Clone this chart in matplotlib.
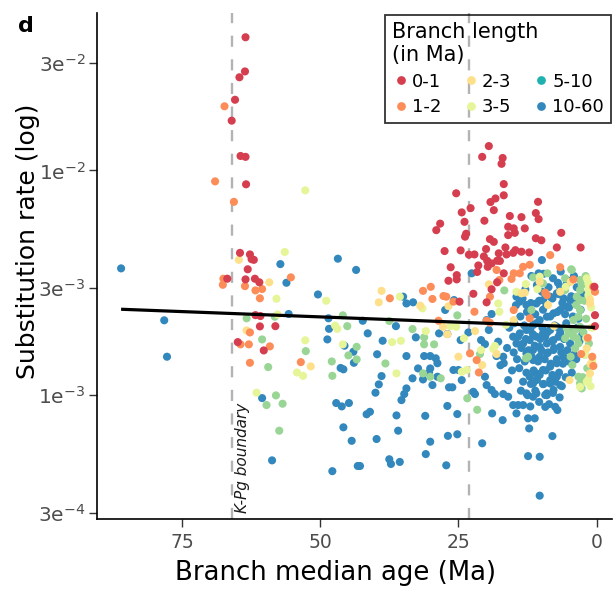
import numpy as np
import matplotlib
matplotlib.use("Agg")
import matplotlib.pyplot as plt
from matplotlib.lines import Line2D
from matplotlib.ticker import NullLocator

plt.rcParams['font.family'] = ['DejaVu Sans']
plt.rcParams['lines.scale_dashes'] = False

# ---------------- data (branch median age in Ma, log10 substitution rate) ----------------
red_age = [63.5, 63.6, 64.6, 65.4, 66.0, 64.4, 63.5, 63.4, 64.5, 62.7, 62.4, 62.0, 63.1, 66.8, 63.5,
           61.8, 61.0, 61.7, 60.8, 60.9, 58.1, 64.9, 60.2, 19.5, 20.7, 17.0, 17.2, 16.8, 25.4, 16.8,
           18.3, 19.2, 10.6, 22.8, 24.4, 18.6, 11.0, 15.7, 13.6, 10.5, 20.3, 23.9, 28.3, 16.0, 15.0,
           13.0, 29.0, 14.8, 23.6, 16.0, 6.4, 23.8, 11.0, 10.0, 19.3, 18.6, 27.5, 24.6, 20.0, 16.5,
           14.7, 7.2, 2.9, 12.2, 23.1, 22.1, 20.4, 17.7, 16.3, 19.8, 18.0, 21.4, 26.4, 25.3, 25.3,
           26.8, 21.6, 19.7, 19.0, 17.5, 16.8, 18.0, 22.3, 19.0, 19.9, 24.8, 0.4, 0.3, 0.3, 15.1, 13.6]
red_lr = [-1.408, -1.560, -1.586, -1.686, -1.779, -1.936, -1.940, -2.062, -2.367, -2.374, -2.395, -2.398,
          -2.440, -2.482, -2.485, -2.482, -2.498, -2.644, -2.648, -2.694, -2.693, -2.764, -2.801, -1.892,
          -1.940, -1.945, -1.971, -2.061, -2.102, -2.111, -2.125, -2.141, -2.140, -2.168, -2.187, -2.177,
          -2.190, -2.203, -2.208, -2.217, -2.224, -2.229, -2.237, -2.251, -2.258, -2.258, -2.266, -2.278,
          -2.282, -2.288, -2.278, -2.295, -2.302, -2.311, -2.306, -2.318, -2.359, -2.356, -2.350, -2.343,
          -2.355, -2.343, -2.343, -2.365, -2.375, -2.374, -2.383, -2.369, -2.374, -2.402, -2.402, -2.423,
          -2.431, -2.466, -2.485, -2.491, -2.452, -2.429, -2.414, -2.403, -2.458, -2.498, -2.549, -2.529,
          -2.587, -2.584, -2.518, -2.644, -2.693, -2.367, -2.362]

orange_age = [67.3, 69.0, 65.6, 67.5, 67.6, 55.3, 63.6, 61.7, 60.5, 60.9, 62.7, 64.4, 62.9, 59.1, 62.7,
              53.5, 8.4, 13.3, 12.1, 6.6, 18.1, 15.0, 13.9, 15.4, 17.6, 31.4, 30.0, 29.7, 27.7, 27.2,
              37.4, 25.9, 19.3, 22.1, 19.9, 19.3, 28.6, 15.0, 12.1, 9.0, 9.3, 4.2, 0.6, 0.3, 1.6,
              2.8, 0.8, 0.6, 22.9, 21.3, 21.7]
orange_lr = [-1.715, -2.049, -2.140, -2.482, -2.509, -2.476, -2.515, -2.534, -2.528, -2.569, -2.721, -2.774,
             -2.774, -2.783, -2.856, -2.853, -2.377, -2.429, -2.420, -2.431, -2.443, -2.458, -2.458, -2.483,
             -2.488, -2.536, -2.518, -2.572, -2.559, -2.562, -2.569, -2.584, -2.562, -2.629, -2.669, -2.678,
             -2.669, -2.621, -2.658, -2.555, -2.544, -2.485, -2.518, -2.540, -2.745, -2.817, -2.829, -2.870,
             -2.814, -2.899, -2.844]

yellow_age = [64.7, 59.2, 63.3, 51.7, 38.9, 39.4, 31.9, 26.8, 19.5, 13.6, 13.0, 10.3, 8.8, 6.6, 4.7,
              1.2, 1.2, 7.7, 15.0, 27.0, 27.8, 22.0, 25.0, 20.7, 18.1, 4.9, 1.1, 1.2, 1.8]
yellow_lr = [-2.398, -2.498, -2.712, -2.872, -2.536, -2.587, -2.602, -2.604, -2.507, -2.547, -2.544, -2.496,
             -2.599, -2.540, -2.496, -2.574, -2.592, -2.693, -2.666, -2.729, -2.696, -2.715, -2.829, -2.866,
             -2.817, -2.933, -2.862, -2.903, -2.792]

pale_age = [52.7, 56.4, 57.9, 57.7, 48.9, 47.3, 46.9, 52.7, 45.9, 54.2, 53.1, 61.5, 35.6, 31.5, 30.9,
            37.0, 35.4, 36.2, 26.5, 25.4, 24.0, 23.5, 17.8, 17.6, 16.4, 12.8, 14.5, 10.7, 10.3, 5.6,
            1.8, 1.5, 1.5, 1.5, 1.9, 1.8, 1.5, 3.0, 18.4, 18.7, 24.4, 20.9,
            1.3, 1.0, 0.9, 2.1, 0.8, 1.1]
pale_lr = [-2.089, -2.363, -2.571, -2.641, -2.580, -2.691, -2.705, -2.756, -2.774, -2.899, -2.914, -2.989,
           -2.562, -2.614, -2.715, -2.764, -2.758, -2.903, -2.693, -2.696, -2.747, -2.888, -2.592, -2.629,
           -2.687, -2.506, -2.540, -2.528, -2.473, -2.518, -2.480, -2.503, -2.532, -2.555, -2.747, -2.940,
           -2.930, -2.963, -2.781, -2.794, -2.896, -2.799,
           -2.52, -2.61, -2.70, -2.82, -2.85, -2.96]

green_age = [63.3, 58.2, 45.9, 45.1, 60.5, 52.6, 43.4, 44.9, 43.4, 59.4, 47.9, 47.8, 58.0, 59.7, 56.8,
             57.4, 37.5, 33.3, 31.2, 31.2, 29.4, 38.2, 31.4, 30.1, 28.2, 25.2, 23.4, 21.6, 21.1, 16.7,
             11.5, 11.8, 12.8, 12.4, 8.9, 9.7, 5.7, 4.5, 5.7, 3.0, 2.7, 3.0, 3.6, 3.0, 3.7, 3.0, 3.3,
             4.2, 3.0, 3.9, 5.1, 4.2, 3.6, 3.3, 3.9, 4.7, 4.4, 5.4, 5.7, 3.3, 3.0, 2.7, 4.6,
             2.0, 2.2, 1.9, 2.4, 1.4, 2.1, 1.7, 2.5]
green_lr = [-2.658, -2.651, -2.645, -2.693, -2.752, -2.804, -2.785, -2.823, -2.841, -2.875, -2.850, -2.914,
            -3.001, -3.044, -3.038, -3.158, -2.670, -2.706, -2.743, -2.774, -2.774, -2.859, -2.903, -2.918,
            -2.925, -2.645, -3.014, -3.065, -2.817, -2.534, -2.476, -2.621, -2.836, -2.829, -2.458, -2.503,
            -2.480, -2.443, -2.532, -2.488, -2.510, -2.532, -2.562, -2.577, -2.599, -2.621, -2.651, -2.666,
            -2.696, -2.710, -2.725, -2.740, -2.747, -2.770, -2.792, -2.829, -2.866, -2.703, -2.747, -2.918,
            -2.947, -2.970, -2.440,
            -2.47, -2.58, -2.66, -2.72, -2.77, -2.82, -2.88, -2.92]

blue_age = [86.0, 78.2, 77.7, 57.2, 46.8, 43.5, 56.1, 50.4, 55.7, 48.5, 48.4, 48.7, 45.6, 44.0, 43.9,
            46.3, 45.8, 60.5, 47.1, 46.1, 44.8, 45.8, 44.3, 58.7, 47.8, 43.2, 42.3, 41.4, 38.7, 39.7,
            38.9, 39.4, 40.0, 41.6, 41.0, 39.8, 42.8, 37.5, 37.2, 35.6, 36.2, 35.9, 35.3, 34.8, 34.4,
            36.3, 34.4, 33.2, 35.0, 34.4, 33.3, 32.3, 32.7, 31.2, 30.1, 29.1, 28.8, 30.1, 30.3, 31.4,
            29.7, 28.8, 31.0, 30.1, 30.9, 27.2, 26.9, 25.2, 27.0, 25.2, 26.7, 26.1, 24.4, 25.9, 25.0,
            28.5, 27.0, 27.4, 25.8, 23.2, 24.6, 22.3, 22.0, 20.2, 19.9, 19.0, 18.4, 20.7, 18.9, 17.0,
            16.9, 16.0, 16.0, 20.9, 20.2, 19.9, 19.0, 19.5, 17.8, 18.1, 16.9, 17.4, 16.8, 15.1, 14.2,
            13.3, 14.5, 12.4, 11.2, 12.2, 12.4, 10.3, 10.3, 8.0, 9.3, 7.5, 7.1, 10.9, 9.3, 11.5,
            9.7, 8.4, 6.6, 9.9, 10.5, 22.6,
            14.5, 13.9, 12.7, 12.1, 10.9, 9.7, 8.4, 7.2, 6.6, 5.4, 6.0, 4.8, 5.4, 6.6, 7.8,
            9.0, 10.3, 11.5, 12.7, 13.9, 15.1, 14.5, 13.3, 12.1, 10.9, 9.7, 8.4, 7.2, 6.6, 7.8,
            9.0, 10.3, 11.5, 12.7, 11.5, 10.3, 9.0, 7.8, 6.6, 6.0, 7.2, 8.4, 9.7, 10.9, 12.1,
            10.9, 8.4, 7.2, 7.8, 9.0, 11.5, 12.7,
            11.8, 9.6, 7.9, 6.5, 5.2, 4.1, 10.8, 8.7, 7.0, 5.8, 3.6, 12.9, 9.9, 2.6, 6.9, 4.6,
            14.6, 13.4, 11.9, 10.4, 9.1, 8.0, 6.2, 5.0, 3.9, 2.9, 12.6, 11.1, 9.7, 8.4, 7.1, 5.7,
            4.3, 13.8, 3.3,
            15.8, 14.9, 13.1, 12.0, 10.9, 9.8, 8.9, 7.6, 6.6, 5.5, 4.4, 3.5, 2.6, 14.2, 12.8, 11.5,
            10.2, 9.3, 8.1, 6.9, 5.9, 4.8, 3.1,
            16.2, 15.0, 13.6, 12.3, 11.2, 10.0, 8.8, 7.7, 6.4, 5.3, 4.1, 14.4, 13.0, 11.7, 10.6, 9.4,
            8.3, 7.2, 6.1, 5.0, 3.7,
            15.3, 14.0, 12.7, 11.4, 10.3, 9.2, 8.0, 6.8, 5.6, 4.5, 13.3, 11.9, 10.8, 9.6, 7.5, 6.3,
            13.7, 12.5, 11.1, 9.0, 7.9, 6.7, 10.4, 8.6, 12.0]
blue_lr = [-2.436, -2.667, -2.829, -2.417, -2.393, -2.443, -2.500, -2.552, -2.639, -2.658, -2.705, -2.752,
           -2.780, -2.807, -2.856, -2.879, -2.885, -3.013, -3.035, -3.050, -3.035, -3.143, -3.203, -3.290,
           -3.338, -3.315, -2.669, -2.725, -2.758, -2.818, -2.915, -2.952, -2.989, -3.085, -3.074, -3.195,
           -3.315, -3.285, -3.306, -3.297, -3.090, -3.158, -3.022, -2.995, -2.970, -2.693, -2.592, -2.587,
           -2.562, -2.826, -2.925, -2.881, -2.743, -2.826, -2.826, -2.836, -2.858, -2.881, -2.900, -2.930,
           -2.955, -2.918, -3.092, -3.207, -3.262, -3.312, -3.181, -3.174, -3.048, -3.084, -2.965, -2.965,
           -2.933, -2.888, -2.888, -2.725, -2.728, -2.621, -2.577, -2.721, -2.755, -2.985, -2.995, -2.918,
           -2.955, -2.977, -2.995, -3.214, -3.081, -3.111, -2.995, -3.007, -2.933, -2.755, -2.773, -2.666,
           -2.639, -2.710, -2.762, -2.826, -2.829, -2.867, -2.858, -3.044, -3.044, -3.044, -3.081, -3.103,
           -3.103, -3.148, -3.271, -3.274, -3.447, -3.182, -3.052, -3.052, -3.066, -2.992, -2.999, -2.948,
           -2.951, -2.948, -2.955, -2.399, -2.458, -2.458,
           -2.562, -2.584, -2.599, -2.621, -2.592, -2.577, -2.562, -2.547, -2.518, -2.503, -2.569, -2.577,
           -2.607, -2.621, -2.636, -2.651, -2.666, -2.688, -2.710, -2.725, -2.740, -2.770, -2.770, -2.755,
           -2.740, -2.725, -2.710, -2.696, -2.725, -2.755, -2.770, -2.785, -2.799, -2.814, -2.844, -2.829,
           -2.814, -2.799, -2.785, -2.829, -2.858, -2.873, -2.888, -2.903, -2.918, -2.933, -2.933, -2.918,
           -2.977, -2.992, -3.007, -2.992,
           -2.47, -2.46, -2.48, -2.45, -2.49, -2.47, -2.51, -2.52, -2.50, -2.53, -2.52, -2.53, -2.54, -2.55,
           -2.55, -2.56,
           -2.60, -2.57, -2.59, -2.58, -2.60, -2.57, -2.59, -2.61, -2.58, -2.62, -2.63, -2.64, -2.62, -2.65,
           -2.63, -2.64, -2.65, -2.65, -2.66,
           -2.70, -2.68, -2.69, -2.71, -2.68, -2.70, -2.72, -2.69, -2.71, -2.68, -2.72, -2.70, -2.73, -2.74,
           -2.75, -2.73, -2.75, -2.74, -2.76, -2.74, -2.75, -2.77, -2.76,
           -2.79, -2.81, -2.79, -2.80, -2.78, -2.80, -2.81, -2.79, -2.81, -2.80, -2.82, -2.84, -2.85, -2.83,
           -2.85, -2.84, -2.86, -2.84, -2.86, -2.85, -2.84,
           -2.89, -2.88, -2.90, -2.89, -2.91, -2.89, -2.91, -2.90, -2.92, -2.90, -2.94, -2.95, -2.93, -2.95,
           -2.94, -2.96,
           -2.98, -3.00, -2.98, -3.00, -2.99, -3.01, -3.03, -3.04, -3.05]

categories = ["0-1", "1-2", "2-3", "3-5", "5-10", "10-60"]
point_colors = ["#d53e4f", "#fc8d59", "#fee08b", "#e6f598", "#99d594", "#3288bd"]
legend_colors = ["#d53e4f", "#fc8d59", "#fee08b", "#e6f598", "#1fb0b0", "#3288bd"]

boundaries = [66.0, 23.0]
fit_intercept = -2.699   # log10 rate at age 0
fit_slope = 0.000944     # per Ma
fit_range = [86.0, 0.3]

xticks = [75, 50, 25, 0]
yticks = [3e-4, 1e-3, 3e-3, 1e-2, 3e-2]
ytick_labels = ["3e$^{-4}$", "1e$^{-3}$", "3e$^{-3}$", "1e$^{-2}$", "3e$^{-2}$"]

# ---------------- figure ----------------
fig = plt.figure(figsize=(6.14, 5.89), dpi=100)
ax = fig.add_axes([0.1585, 0.1183, 0.9967 - 0.1585, 0.9779 - 0.1183])
ax.set_yscale('log')
ax.set_xlim(90.3, -2.77)
ax.set_ylim(2.804e-4, 5.01e-2)

for b in boundaries:
    ax.axvline(b, color='#b3b3b3', lw=1.7, ls=(0, (8, 9)), zorder=1)

groups = [(red_age, red_lr), (orange_age, orange_lr), (yellow_age, yellow_lr),
          (pale_age, pale_lr), (green_age, green_lr), (blue_age, blue_lr)]
order = [5, 4, 3, 2, 1, 0]
for i in order:
    a, lr = groups[i]
    ax.scatter(a, 10 ** np.array(lr), s=34, color=point_colors[i], edgecolors='none', zorder=2)

fx = np.array(fit_range)
ax.plot(fx, 10 ** (fit_intercept + fit_slope * fx), color='black', lw=2.3, zorder=3,
        solid_capstyle='butt')

ax.text(64.0, 2.98e-4, "K-Pg boundary", rotation=90, ha='center', va='bottom',
        fontsize=11, style='italic', color='#1a1a1a')

ax.set_xticks(xticks)
ax.set_xticklabels([str(t) for t in xticks])
ax.set_yticks(yticks)
ax.set_yticklabels(ytick_labels)
ax.yaxis.set_minor_locator(NullLocator())
ax.tick_params(axis='both', colors='#333333', length=5.5, width=1.0, labelcolor='#4d4d4d')
ax.tick_params(axis='x', labelsize=13.5, pad=4)
ax.tick_params(axis='y', labelsize=14.5, pad=3)
for s in ['top', 'right']:
    ax.spines[s].set_visible(False)
for s in ['left', 'bottom']:
    ax.spines[s].set_linewidth(1.2)
    ax.spines[s].set_color('black')

ax.set_xlabel("Branch median age (Ma)", fontsize=18.7)
ax.set_ylabel("Substitution rate (log)", fontsize=18)
ax.xaxis.set_label_coords(0.462, -0.08)
ax.yaxis.set_label_coords(-0.112, 0.55)

handles = [Line2D([], [], marker='o', ls='none', color=c, markersize=6.3, markeredgewidth=0)
           for c in legend_colors]
leg = fig.legend(handles, categories, ncol=3, title="Branch length\n(in Ma)",
                 loc='upper left', bbox_to_anchor=(385 / 614, 1 - 15 / 589),
                 fontsize=13, title_fontsize=15, frameon=True, fancybox=False,
                 edgecolor='black', facecolor='none', framealpha=None,
                 handletextpad=0.1, columnspacing=1.15, handlelength=1.0,
                 borderpad=0.4, labelspacing=0.4, borderaxespad=0, alignment='left')
leg.get_frame().set_linewidth(1.3)

fig.text(18 / 614, 1 - 26 / 589, "d", fontsize=16, fontweight='bold', va='center', ha='left')

fig.savefig("out.png", dpi=100)
